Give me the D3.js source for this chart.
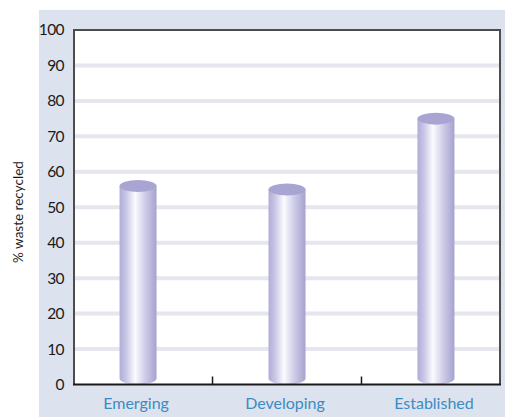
<!DOCTYPE html>
<html>
<head>
<meta charset="utf-8">
<script src="https://cdn.jsdelivr.net/npm/d3@7"></script>
<style>
  html, body { margin: 0; padding: 0; background: #fff; }
  svg { display: block; }
</style>
</head>
<body>
<svg id="chart" width="506" height="417"></svg>
<script>
// Share of waste recycled by market type
const categories = ["Emerging", "Developing", "Established"];
const recycled = [56, 55, 75];
const yTicks = [0, 10, 20, 30, 40, 50, 60, 70, 80, 90, 100];
const yTitle = "% waste recycled";

const W = 506, H = 417;
const plot = { left: 74, top: 30, right: 500, bottom: 384.5 };
const fontFamily = "Lato, 'Open Sans', sans-serif";

const svg = d3.select("#chart");

// panel behind the chart
svg.append("rect")
  .attr("x", 39).attr("y", 10)
  .attr("width", 466).attr("height", H - 10)
  .attr("fill", "#dde3ee");

// white plot area
svg.append("rect")
  .attr("x", plot.left).attr("y", plot.top)
  .attr("width", plot.right - plot.left).attr("height", plot.bottom - plot.top)
  .attr("fill", "#ffffff");

const y = d3.scaleLinear().domain([0, 100]).range([plot.bottom, plot.top]);
const x = d3.scalePoint().domain(categories).range([plot.left, plot.right]).padding(0.43);

// horizontal gridlines
svg.append("g")
  .selectAll("line")
  .data(yTicks.filter(t => t > 0 && t < 100))
  .join("line")
  .attr("x1", plot.left).attr("x2", plot.right)
  .attr("y1", d => y(d)).attr("y2", d => y(d))
  .attr("stroke", "#e5e6ee")
  .attr("stroke-width", 4);

// y axis labels
const yAxis = d3.axisLeft(y).tickValues(yTicks).tickSize(0).tickPadding(10).tickFormat(d3.format("d"));
const gy = svg.append("g").attr("transform", `translate(${plot.left},0)`).call(yAxis);
gy.select(".domain").remove();
gy.selectAll("text")
  .attr("font-family", fontFamily)
  .attr("font-size", 15.5)
  .attr("letter-spacing", -0.6)
  .attr("fill", "#1a1a1a");

// cylinder shading
const defs = svg.append("defs");
const grad = defs.append("linearGradient").attr("id", "cyl").attr("x1", "0").attr("x2", "1").attr("y1", "0").attr("y2", "0");
grad.append("stop").attr("offset", "0%").attr("stop-color", "#b0add8");
grad.append("stop").attr("offset", "18%").attr("stop-color", "#c9c7e6");
grad.append("stop").attr("offset", "42%").attr("stop-color", "#fbfbfe");
grad.append("stop").attr("offset", "70%").attr("stop-color", "#cdcbe7");
grad.append("stop").attr("offset", "100%").attr("stop-color", "#a6a2cf");

const cw = 37, ry = 6;
const bars = svg.append("g")
  .selectAll("g")
  .data(categories.map((c, i) => ({ c, v: recycled[i] })))
  .join("g");

bars.append("path")
  .attr("d", d => {
    const cx = x(d.c), x0 = cx - cw / 2, x1 = cx + cw / 2;
    const top = y(d.v), base = y(0) - ry;
    return `M${x0},${top} L${x0},${base} A${cw / 2},${ry} 0 0 0 ${x1},${base} L${x1},${top} Z`;
  })
  .attr("fill", "url(#cyl)");

bars.append("ellipse")
  .attr("cx", d => x(d.c))
  .attr("cy", d => y(d.v))
  .attr("rx", cw / 2)
  .attr("ry", ry)
  .attr("fill", "#a9a5d3");

// frame: left, top, right
svg.append("path")
  .attr("d", `M${plot.left},${plot.bottom} L${plot.left},${plot.top} L${plot.right},${plot.top} L${plot.right},${plot.bottom}`)
  .attr("fill", "none")
  .attr("stroke", "#4d4d4d")
  .attr("stroke-width", 2);

// x axis with ticks between categories
const mids = d3.pairs(categories).map(([a, b]) => (x(a) + x(b)) / 2);
svg.append("line")
  .attr("x1", plot.left - 1).attr("x2", plot.right + 1)
  .attr("y1", plot.bottom).attr("y2", plot.bottom)
  .attr("stroke", "#1a1a1a").attr("stroke-width", 2);
svg.append("g")
  .selectAll("line")
  .data(mids)
  .join("line")
  .attr("x1", d => d).attr("x2", d => d)
  .attr("y1", plot.bottom).attr("y2", plot.bottom - 8)
  .attr("stroke", "#1a1a1a").attr("stroke-width", 1.5);

svg.append("g")
  .selectAll("text")
  .data(categories)
  .join("text")
  .attr("x", d => x(d) - 2)
  .attr("y", 409)
  .attr("text-anchor", "middle")
  .attr("font-family", fontFamily)
  .attr("font-size", 16)
  .attr("fill", "#3a8cc3")
  .text(d => d);

// y axis title
svg.append("text")
  .attr("transform", `translate(23,212) rotate(-90)`)
  .attr("text-anchor", "middle")
  .attr("font-family", fontFamily)
  .attr("font-size", 13.5)
  .attr("fill", "#1a1a1a")
  .text(yTitle);
</script>
</body>
</html>
